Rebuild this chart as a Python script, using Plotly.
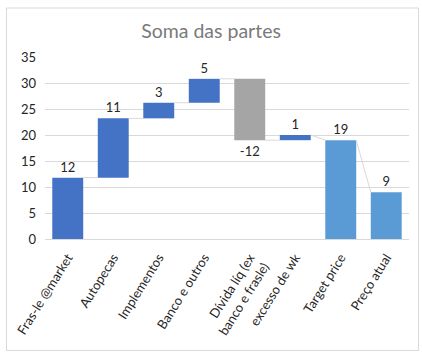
import plotly.graph_objects as go

categories = ["Fras-le @market", "Autopecas", "Implementos", "Banco e outros",
              "Dívida líq (ex<br>banco e frasle)", "excesso de wk", "Target price", "Preço atual"]
values = [11.8, 11.4, 3.0, 4.6, -11.8, 1.0, 19.0, 9.0]
measures = ["relative", "relative", "relative", "relative", "relative", "relative", "absolute", "absolute"]
labels = ["12", "11", "3", "5", "-12", "1", "19", "9"]

W, H = 422, 358
ML, MR, MT, MB = 45, 13, 57, 119
BAR_W = 0.68

xs = list(range(len(categories)))

# cumulative levels for connectors
starts, ends = [], []
level = 0.0
for v, m in zip(values, measures):
    if m == "absolute":
        s, e = 0.0, v
    else:
        s, e = level, level + v
    starts.append(s)
    ends.append(e)
    level = e

cx, cy = [], []
for i in range(len(xs) - 1):
    nxt = ends[i + 1] if measures[i + 1] == "absolute" else starts[i + 1]
    cx += [xs[i] + BAR_W / 2, xs[i + 1] - BAR_W / 2, None]
    cy += [ends[i], nxt, None]

fig = go.Figure()
fig.add_trace(go.Scatter(x=cx, y=cy, mode="lines", line=dict(color="#D9D9D9", width=1),
                         hoverinfo="skip", showlegend=False))
fig.add_trace(go.Waterfall(
    x=xs, y=values, measure=measures, width=BAR_W,
    text=labels, textposition="outside", textfont=dict(size=13, color="#262626"),
    increasing=dict(marker=dict(color="#4472C4")),
    decreasing=dict(marker=dict(color="#A5A5A5")),
    totals=dict(marker=dict(color="#5B9BD5")),
    connector=dict(visible=False),
    cliponaxis=False, hoverinfo="skip", showlegend=False,
))

pw = W - ML - MR
ph = H - MT - MB
def px2paper_x(px):
    return (px - ML) / pw
def px2paper_y(py):
    return (H - MB - py) / ph

fig.add_shape(type="rect", xref="paper", yref="paper",
              x0=px2paper_x(6.5), x1=px2paper_x(418.5),
              y0=px2paper_y(350.5), y1=px2paper_y(8),
              line=dict(color="#D9D9D9", width=1), fillcolor="rgba(0,0,0,0)", layer="below")

fig.update_layout(
    width=W, height=H,
    margin=dict(l=ML, r=MR, t=MT, b=MB, autoexpand=False),
    paper_bgcolor="white", plot_bgcolor="white",
    font=dict(family="Lato", color="#595959", size=12.5),
    title=dict(text="Soma das partes", x=0.5, xref="container", xanchor="center",
               y=1 - 31 / H, yref="container", yanchor="middle",
               font=dict(family="Lato", size=19.5, color="#7A7A7A")),
    xaxis=dict(tickmode="array", tickvals=xs, ticktext=categories, tickangle=-58,
               range=[-0.5, len(xs) - 0.5], showgrid=False, zeroline=False,
               showline=True, linecolor="#D9D9D9", ticks="", automargin=False,
               ticklabelstandoff=5,
               tickfont=dict(size=13, color="#262626")),
    yaxis=dict(range=[0, 35], dtick=5, showgrid=True, gridcolor="#D9D9D9",
               zeroline=False, showline=False, ticks="", ticklabelstandoff=8,
               automargin=False,
               tickfont=dict(size=13, color="#262626")),
    bargap=0.32,
)

fig.write_html("out.html", config={"displayModeBar": False},
               post_script="document.body.style.margin='0';document.body.style.overflow='hidden';")
